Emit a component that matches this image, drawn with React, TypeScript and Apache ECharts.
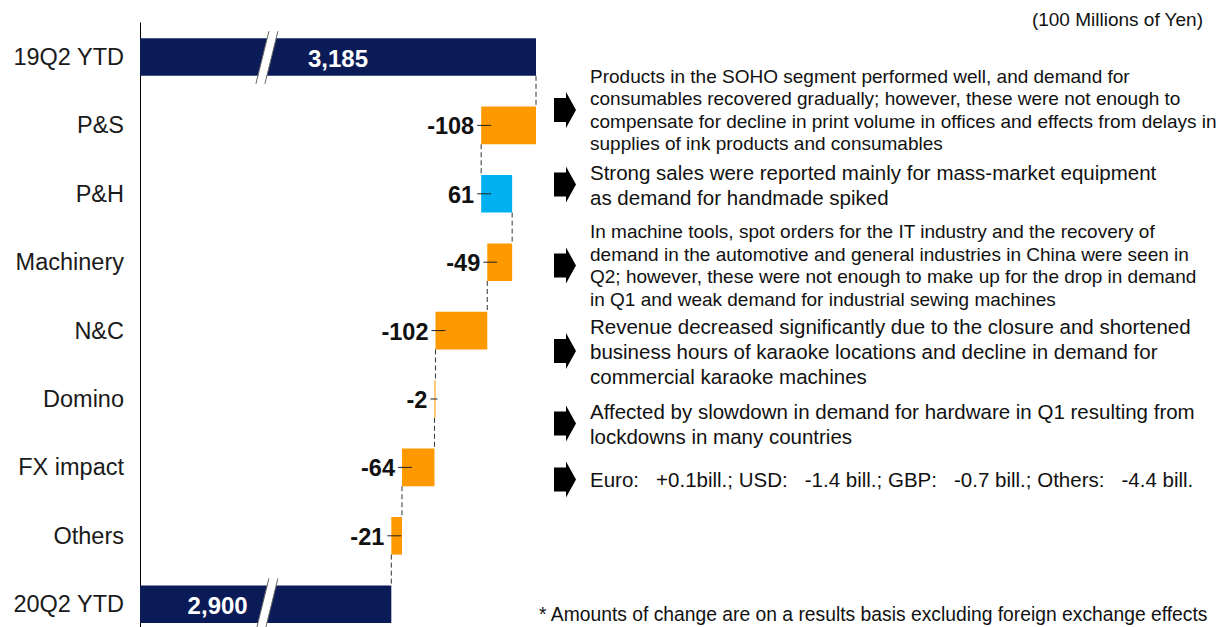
import React, { useEffect, useRef } from "react";
import * as echarts from "echarts";

// ---------- data ----------
const categories = ["19Q2 YTD", "P&S", "P&H", "Machinery", "N&C", "Domino", "FX impact", "Others", "20Q2 YTD"];
const startTotal = 3185;
const endTotal = 2900;
const changes = [-108, 61, -49, -102, -2, -64, -21]; // P&S .. Others
const totalLabels = ["3,185", "2,900"];
const unitNote = "(100 Millions of Yen)";
const footnote = "* Amounts of change are on a results basis excluding foreign exchange effects";
const notes = [
  "Products in the SOHO segment performed well, and demand for\nconsumables recovered gradually; however, these were not enough to\ncompensate for decline in print volume in offices and effects from delays in\nsupplies of ink products and consumables",
  "Strong sales were reported mainly for mass-market equipment\nas demand for handmade spiked",
  "In machine tools, spot orders for the IT industry and the recovery of\ndemand in the automotive and general industries in China were seen in\nQ2; however, these were not enough to make up for the drop in demand\nin Q1 and weak demand for industrial sewing machines",
  "Revenue decreased significantly due to the closure and shortened\nbusiness hours of karaoke locations and decline in demand for\ncommercial karaoke machines",
  "Affected by slowdown in demand for hardware in Q1 resulting from\nlockdowns in many countries",
  "Euro:   +0.1bill.; USD:   -1.4 bill.; GBP:   -0.7 bill.; Others:   -4.4 bill.",
];

// ---------- layout / style ----------
const AXIS_MIN = 2405;
const AXIS_MAX = 3405;
const SLASH_VALUE = 2655;
const FONT = '"Liberation Sans", Arial, sans-serif';
const NAVY = "#0B1B57";
const ORANGE = "#FF9900";
const BLUE = "#00B0F0";
const TEXT = "#111111";
const totalLabelShift = [0, -48];
const noteLayout = [
  { y: 110, size: 19, lh: 22.4 },
  { y: 184.5, size: 20.5, lh: 25 },
  { y: 265.5, size: 19, lh: 22.4 },
  { y: 351, size: 20.5, lh: 25 },
  { y: 423.5, size: 20.5, lh: 25 },
  { y: 479.5, size: 20.5, lh: 25 },
];

function buildRows() {
  // [catIndex, low, high, kind(0 total,1 down,2 up), value, runningEnd]
  const rows: number[][] = [];
  rows.push([0, AXIS_MIN, startTotal, 0, startTotal, startTotal]);
  let run = startTotal;
  changes.forEach((d, i) => {
    const next = run + d;
    rows.push([i + 1, Math.min(run, next), Math.max(run, next), d < 0 ? 1 : 2, d, next]);
    run = next;
  });
  rows.push([categories.length - 1, AXIS_MIN, endTotal, 0, endTotal, endTotal]);
  return rows;
}

export default function App() {
  const ref = useRef<HTMLDivElement>(null);
  useEffect(() => {
    if (!ref.current) return;
    const chart = echarts.init(ref.current, undefined, { renderer: "svg" });
    const rows = buildRows();
    const colors = [NAVY, ORANGE, BLUE];
    let totalCount = 0;
    const totalIdxMap: Record<number, number> = {};
    rows.forEach((r) => {
      if (r[3] === 0) totalIdxMap[r[0]] = totalCount++;
    });

    const renderItem = (params: any, api: any) => {
      const idx = api.value(0);
      const low = api.value(1);
      const high = api.value(2);
      const kind = api.value(3);
      const val = api.value(4);
      const endV = api.value(5);
      const band = api.size([0, 1])[1];
      const h = band * 0.55;
      const pL = api.coord([low, idx]);
      const pH = api.coord([high, idx]);
      const cy = pL[1];
      const x0 = pL[0];
      const x1 = pH[0];
      const children: any[] = [];
      children.push({
        type: "rect",
        shape: { x: x0, y: cy - h / 2, width: Math.max(x1 - x0, 1), height: h },
        style: { fill: colors[kind] },
      });
      if (kind === 0) {
        const sx = api.coord([SLASH_VALUE, idx])[0];
        const top = cy - h / 2 - 7;
        const bot = cy + h / 2 + 8;
        children.push({
          type: "polygon",
          shape: { points: [[sx + 2, top], [sx + 11, top], [sx - 2, bot], [sx - 11, bot]] },
          style: { fill: "#ffffff" },
        });
        children.push({
          type: "line",
          shape: { x1: sx + 2, y1: top, x2: sx - 11, y2: bot },
          style: { stroke: "#666", lineWidth: 1 },
        });
        children.push({
          type: "line",
          shape: { x1: sx + 11, y1: top, x2: sx - 2, y2: bot },
          style: { stroke: "#666", lineWidth: 1 },
        });
        const ti = totalIdxMap[idx];
        children.push({
          type: "text",
          style: {
            text: totalLabels[ti],
            x: (x0 + x1) / 2 + totalLabelShift[ti],
            y: cy + 1,
            align: "center",
            verticalAlign: "middle",
            fill: "#ffffff",
            font: `bold 24px ${FONT}`,
          },
        });
      } else {
        children.push({
          type: "line",
          shape: { x1: x0 - 4, y1: cy, x2: Math.min(x0 + 10, x1 + 2), y2: cy },
          style: { stroke: "#222", lineWidth: 1 },
        });
        children.push({
          type: "text",
          style: {
            text: String(val),
            x: x0 - 7,
            y: cy + 1,
            align: "right",
            verticalAlign: "middle",
            fill: TEXT,
            font: `bold 23.5px ${FONT}`,
          },
        });
      }
      if (idx < categories.length - 1) {
        const ex = api.coord([endV, idx])[0];
        const nextTop = api.coord([endV, idx + 1])[1] - h / 2;
        children.push({
          type: "line",
          shape: { x1: ex, y1: cy + h / 2, x2: ex, y2: nextTop },
          style: { stroke: "#333", lineWidth: 1, lineDash: [5, 3] },
        });
      }
      return { type: "group", children };
    };

    const graphics: any[] = [];
    graphics.push({
      type: "text",
      x: 1203,
      y: 19,
      style: { text: unitNote, fill: TEXT, font: `19px ${FONT}`, align: "right", verticalAlign: "middle" },
    });
    notes.forEach((t, i) => {
      const L = noteLayout[i];
      const cy = L.y;
      graphics.push({
        type: "polygon",
        shape: {
          points: [
            [554, cy - 12],
            [566, cy - 12],
            [566, cy - 18],
            [576, cy],
            [566, cy + 18],
            [566, cy + 12],
            [554, cy + 12],
          ],
        },
        style: { fill: "#000" },
      });
      graphics.push({
        type: "text",
        x: 590,
        y: cy,
        style: {
          text: t,
          fill: TEXT,
          font: `${L.size}px ${FONT}`,
          lineHeight: L.lh,
          verticalAlign: "middle",
          align: "left",
        },
      });
    });
    graphics.push({
      type: "text",
      x: 539,
      y: 614,
      style: { text: footnote, fill: TEXT, font: `19.3px ${FONT}`, verticalAlign: "middle" },
    });

    chart.setOption({
      animation: false,
      backgroundColor: "#ffffff",
      grid: { left: 140, top: 22.8, height: 615.6, width: 507.7 },
      xAxis: { type: "value", min: AXIS_MIN, max: AXIS_MAX, show: false },
      yAxis: {
        type: "category",
        data: categories,
        inverse: true,
        axisTick: { show: false },
        axisLine: { lineStyle: { color: "#000", width: 1 } },
        axisLabel: { color: "#1a1a1a", fontSize: 23.5, fontFamily: FONT, margin: 16 },
        splitLine: { show: false },
      },
      series: [
        {
          type: "custom",
          renderItem,
          clip: false,
          encode: { x: [1, 2], y: 0 },
          data: rows,
        },
      ],
      graphic: graphics,
    });
    return () => chart.dispose();
  }, []);
  return (
    <div
      ref={ref}
      style={{ position: "fixed", left: 0, top: 0, width: 1232, height: 660, background: "#fff" }}
    />
  );
}
